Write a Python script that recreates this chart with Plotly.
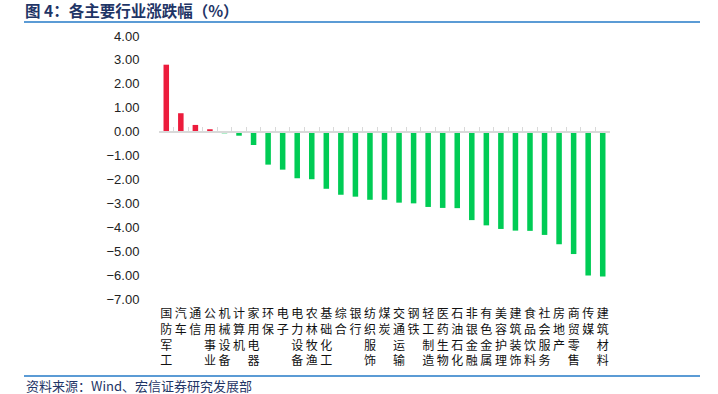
import plotly.graph_objects as go

industries = ["国防军工", "汽车", "通信", "公用事业", "机械设备", "计算机", "家用电器", "环保", "电子",
              "电力设备", "农林牧渔", "基础化工", "综合", "银行", "纺织服饰", "煤炭", "交通运输", "钢铁",
              "轻工制造", "医药生物", "石油石化", "非银金融", "有色金属", "美容护理", "建筑装饰",
              "食品饮料", "社会服务", "房地产", "商贸零售", "传媒", "建筑材料"]
changes = [2.80, 0.77, 0.28, 0.10, -0.07, -0.17, -0.56, -1.38, -1.59, -1.95, -1.99, -2.39, -2.64,
           -2.72, -2.85, -2.85, -2.97, -3.00, -3.15, -3.19, -3.20, -3.70, -3.92, -4.07, -4.14,
           -4.15, -4.32, -4.71, -5.12, -6.02, -6.06]
y_ticks = [4, 3, 2, 1, 0, -1, -2, -3, -4, -5, -6, -7]

RED = "#EC1C3C"
GREEN = "#00CC55"
NAVY = "#1F3566"
LINE_BLUE = "#5B9BD5"
CJK = "Noto Sans CJK SC"

colors = [RED if v >= 0 else GREEN for v in changes]
ticktext = ["<br>".join(list(n)) for n in industries]

fig = go.Figure()
fig.add_trace(go.Bar(x=industries, y=changes, marker=dict(color=colors, line=dict(width=0)),
                     width=0.38, hoverinfo="x+y"))
# invisible helper trace for the zero-line axis
fig.add_trace(go.Scatter(x=[-0.5, len(industries) - 0.5], y=[0, 0], xaxis="x2", mode="lines",
                         line=dict(width=0), opacity=0, hoverinfo="skip", showlegend=False))

fig.update_layout(
    width=718, height=394,
    margin=dict(l=159, r=108, t=36, b=95, autoexpand=False),
    paper_bgcolor="white", plot_bgcolor="white",
    showlegend=False,
    title=dict(text="<b>图 4：各主要行业涨跌幅（%）</b>", x=25 / 718, xanchor="left", xref="container",
               y=1 - 12 / 394, yanchor="middle", yref="container",
               font=dict(family=CJK, size=15.5, color=NAVY)),
    xaxis=dict(type="category", categoryorder="array", categoryarray=industries,
               tickmode="array", tickvals=industries, ticktext=ticktext,
               range=[-0.5, len(industries) - 0.5], automargin=False,
               showline=False, showgrid=False, zeroline=False,
               ticks="outside", ticklen=4, tickcolor="rgba(0,0,0,0)",
               tickangle=0,
               tickfont=dict(family=CJK, size=12, color="#111111")),
    xaxis2=dict(overlaying="x", anchor="free", position=7 / 11, side="bottom",
                range=[-0.5, len(industries) - 0.5], tickmode="linear", tick0=-0.5, dtick=1,
                showticklabels=False, ticks="inside", ticklen=4, tickcolor="#D9D9D9", tickwidth=1,
                showline=True, linecolor="#D9D9D9", linewidth=1.5, showgrid=False, zeroline=False),
    yaxis=dict(range=[-7, 4], tickmode="array", tickvals=y_ticks, automargin=False,
               ticktext=[f"{v:.2f}".replace("-", "−") for v in y_ticks],
               showgrid=False, zeroline=False, showline=False,
               ticks="outside", ticklen=16, tickcolor="rgba(0,0,0,0)",
               tickfont=dict(family="Liberation Sans", size=13, color="#222222")),
    shapes=[
        dict(type="line", xref="paper", yref="paper", x0=(24 - 159) / 451, x1=(700 - 159) / 451,
             y0=(299 - 22) / 263, y1=(299 - 22) / 263, line=dict(color=LINE_BLUE, width=2)),
        dict(type="line", xref="paper", yref="paper", x0=(24 - 159) / 451, x1=(700 - 159) / 451,
             y0=(299 - 376) / 263, y1=(299 - 376) / 263, line=dict(color=LINE_BLUE, width=2)),
    ],
    annotations=[
        dict(text="资料来源：Wind、宏信证券研究发展部", xref="paper", yref="paper",
             x=(24 - 159) / 451, y=(299 - 385) / 263, xanchor="left", yanchor="middle",
             showarrow=False, font=dict(family=CJK, size=13, color=NAVY)),
    ],
)

fig.write_html("out.html", config={"displayModeBar": False},
               post_script="document.body.style.margin='0';")
